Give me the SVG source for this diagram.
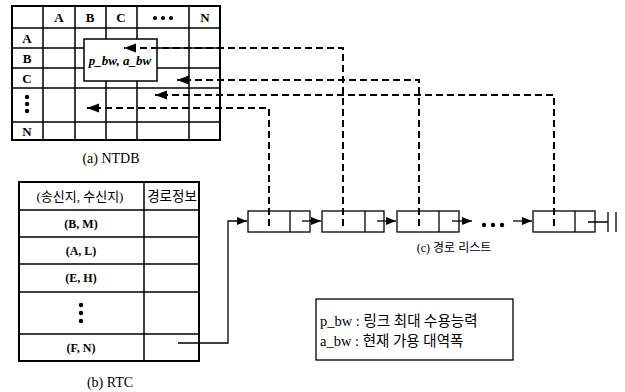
<svg xmlns="http://www.w3.org/2000/svg" width="625" height="392" viewBox="0 0 625 392">
<style>
.bg{fill:#fff}
.grid{fill:none;stroke:#000;stroke-width:1.5}
.lbl{font-family:"Liberation Serif","Noto Sans CJK KR",serif;font-weight:bold;font-size:13px;fill:#000;text-anchor:middle}
.rtc{font-family:"Liberation Serif","Noto Sans CJK KR",serif;font-weight:bold;font-size:12px;fill:#000;text-anchor:middle}
.ko{font-family:"Liberation Serif","Noto Sans CJK KR",serif;font-size:12px;fill:#000}
.hdr{font-family:"Liberation Serif","Noto Sans CJK KR",serif;font-size:13px;fill:#000;text-anchor:middle}
.leg{font-family:"Liberation Serif","Noto Sans CJK KR",serif;font-size:14.5px;fill:#000}
.cap{font-family:"Liberation Serif","Noto Sans CJK KR",serif;font-size:14px;fill:#000;text-anchor:middle}
.dash{fill:none;stroke:#000;stroke-width:2;stroke-dasharray:7 4}
.solid{fill:none;stroke:#000;stroke-width:1.3}
</style>
<defs>
<marker id="bigArrow" markerUnits="userSpaceOnUse" markerWidth="14" markerHeight="10" refX="12" refY="4.5" orient="auto">
<path d="M0,0 L12,4.5 L0,9 z" fill="#000"/>
</marker>
<marker id="smallArrow" markerUnits="userSpaceOnUse" markerWidth="12" markerHeight="10" refX="10" refY="4" orient="auto">
<path d="M0,0 L10,4 L0,8 z" fill="#000"/>
</marker>
</defs>
<rect class="bg" x="0" y="0" width="625" height="392"/>

<g id="ntdb">
<rect class="grid" x="12" y="6" width="208" height="134" style="stroke-width:2"/>
<path class="grid" d="M43,6V140M75,6V140M106,6V140M137,6V140M189,6V140M12,28H220M12,48H220M12,68H220M12,88H220M12,122H220"/>
<text class="lbl" x="59" y="22">A</text>
<text class="lbl" x="90" y="22">B</text>
<text class="lbl" x="121" y="22">C</text>
<circle cx="155" cy="18" r="2"/><circle cx="163" cy="18" r="2"/><circle cx="171" cy="18" r="2"/>
<text class="lbl" x="205" y="22">N</text>
<text class="lbl" x="27" y="43">A</text>
<text class="lbl" x="27" y="63">B</text>
<text class="lbl" x="27" y="83">C</text>
<circle cx="27" cy="97" r="2.2"/><circle cx="27" cy="104" r="2.2"/><circle cx="27" cy="111" r="2.2"/>
<text class="lbl" x="27" y="136">N</text>
<text class="cap" x="111" y="163">(a) NTDB</text>
</g>

<g id="cell-box">
<rect x="84" y="39" width="73" height="42" fill="#fff" stroke="#000" stroke-width="1.5"/>
<text class="lbl" x="120" y="65" style="font-style:italic">p_bw, a_bw</text>
</g>

<g id="rtc">
<rect class="grid" x="19" y="182" width="180" height="179" style="stroke-width:2"/>
<path class="grid" d="M144,182V361M19,210H199M19,237H199M19,264H199M19,292H199M19,334H199"/>
<text class="hdr" x="80" y="201">(송신지, 수신지)</text>
<text class="hdr" x="172" y="201" style="font-size:13.5px">경로정보</text>
<text class="rtc" x="81" y="228">(B, M)</text>
<text class="rtc" x="81" y="255">(A, L)</text>
<text class="rtc" x="81" y="282">(E, H)</text>
<circle cx="81" cy="305" r="2.2"/><circle cx="81" cy="313" r="2.2"/><circle cx="81" cy="321" r="2.2"/>
<text class="rtc" x="81" y="352">(F, N)</text>
<text class="cap" x="110" y="387">(b) RTC</text>
</g>

<g id="node1">
<rect class="solid" x="248" y="211" width="62" height="21" fill="#fff"/>
<path class="solid" d="M290,211V232"/>
</g>
<g id="node2">
<rect class="solid" x="322" y="211" width="62" height="21" fill="#fff"/>
<path class="solid" d="M365,211V232"/>
</g>
<g id="node3">
<rect class="solid" x="397" y="211" width="62" height="21" fill="#fff"/>
<path class="solid" d="M439,211V232"/>
</g>
<g id="ellipsis">
<circle cx="484" cy="225" r="2.2"/><circle cx="493" cy="225" r="2.2"/><circle cx="502" cy="225" r="2.2"/>
</g>
<g id="node4">
<rect class="solid" x="533" y="211" width="62" height="21" fill="#fff"/>
<path class="solid" d="M575,211V232"/>
<path class="solid" d="M588,222H608M608,212V232M616,212V232"/>
</g>
<text class="ko" x="454" y="252" style="text-anchor:middle">(c) 경로 리스트</text>

<g id="legend">
<rect x="316" y="299" width="197" height="61" fill="#fff" stroke="#000" stroke-width="1.3"/>
<text class="leg" x="320" y="326">p_bw : 링크 최대 수용능력</text>
<text class="leg" x="320" y="346">a_bw : 현재 가용 대역폭</text>
</g>

<g id="connectors">
<path class="dash" d="M343,226V48H124" marker-end="url(#bigArrow)"/>
<path class="dash" d="M419,226V80H177" marker-end="url(#bigArrow)"/>
<path class="dash" d="M554,226V95H155" marker-end="url(#bigArrow)"/>
<path class="dash" d="M269,226V108H87" marker-end="url(#bigArrow)"/>
<path class="solid" d="M178,343H228V221H247" marker-end="url(#smallArrow)"/>
<path class="solid" d="M302,221H321" marker-end="url(#smallArrow)"/>
<path class="solid" d="M377,221H396" marker-end="url(#smallArrow)"/>
<path class="solid" d="M452,221H472" marker-end="url(#smallArrow)"/>
<path class="solid" d="M513,221H532" marker-end="url(#smallArrow)"/>
</g>
</svg>
